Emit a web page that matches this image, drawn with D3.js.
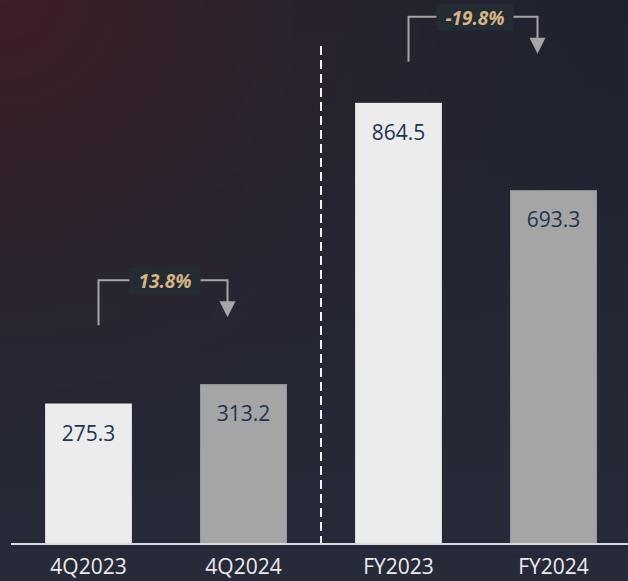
<!DOCTYPE html>
<html>
<head>
<meta charset="utf-8">
<script src="https://cdn.jsdelivr.net/npm/d3@7"></script>
<style>
  html, body { margin: 0; padding: 0; background: #232532; }
  #chart { width: 628px; height: 581px; }
</style>
</head>
<body>
<div id="chart"></div>
<script>
// chart values
var categories = ["4Q2023", "4Q2024", "FY2023", "FY2024"];
var values = [275.3, 313.2, 864.5, 693.3];
var valueLabels = ["275.3", "313.2", "864.5", "693.3"];
var barColors = ["#ececec", "#a5a5a5", "#ececec", "#a5a5a5"];
var changeLabels = ["13.8%", "-19.8%"];
var changePairs = [[0, 1], [2, 3]];

var width = 628, height = 581;
var baseY = 544;

var svg = d3.select("#chart").append("svg")
    .attr("width", width)
    .attr("height", height);

// background
var defs = svg.append("defs");
var lin = defs.append("linearGradient").attr("id", "bgLin")
    .attr("x1", "0").attr("y1", "0").attr("x2", "0").attr("y2", "1");
lin.append("stop").attr("offset", "0%").attr("stop-color", "#1f222d");
lin.append("stop").attr("offset", "100%").attr("stop-color", "#272b39");
var rad = defs.append("radialGradient").attr("id", "bgRad")
    .attr("cx", "0").attr("cy", "0").attr("r", "1");
rad.append("stop").attr("offset", "0%").attr("stop-color", "#3e1d25").attr("stop-opacity", 1);
rad.append("stop").attr("offset", "35%").attr("stop-color", "#31212b").attr("stop-opacity", 0.85);
rad.append("stop").attr("offset", "70%").attr("stop-color", "#2a2430").attr("stop-opacity", 0.35);
rad.append("stop").attr("offset", "100%").attr("stop-color", "#252633").attr("stop-opacity", 0);

svg.append("rect").attr("width", width).attr("height", height).attr("fill", "url(#bgLin)");
svg.append("rect").attr("width", width).attr("height", height).attr("fill", "url(#bgRad)");

var x = d3.scaleBand()
    .domain(categories)
    .range([11, 631])
    .paddingInner(0.44)
    .paddingOuter(0.22);

var y = d3.scaleLinear()
    .domain([0, 1066])
    .range([baseY, 0]);

// bars
svg.append("g").selectAll("rect")
    .data(categories)
    .enter().append("rect")
    .attr("x", function(d) { return x(d); })
    .attr("y", function(d, i) { return y(values[i]); })
    .attr("width", x.bandwidth())
    .attr("height", function(d, i) { return baseY - y(values[i]); })
    .attr("fill", function(d, i) { return barColors[i]; });

// value labels
svg.append("g").selectAll("text")
    .data(categories)
    .enter().append("text")
    .attr("x", function(d) { return x(d) + x.bandwidth() / 2; })
    .attr("y", function(d, i) { return y(values[i]) + 37; })
    .attr("text-anchor", "middle")
    .style("font-family", "'Open Sans', sans-serif")
    .style("font-size", "21px")
    .style("fill", "#1f3552")
    .text(function(d, i) { return valueLabels[i]; });

// divider between quarter and full year
var midX = (x(categories[1]) + x.bandwidth() + x(categories[2])) / 2;
svg.append("line")
    .attr("x1", midX).attr("x2", midX)
    .attr("y1", 46).attr("y2", baseY)
    .attr("stroke", "#f2f2f2")
    .attr("stroke-width", 2)
    .attr("stroke-dasharray", "9,5");

// x axis
var xAxis = svg.append("g")
    .attr("transform", "translate(0," + baseY + ")")
    .call(d3.axisBottom(x).tickSize(0).tickPadding(15));
xAxis.select(".domain").remove();
xAxis.append("line")
    .attr("x1", 11).attr("x2", width)
    .attr("y1", 0).attr("y2", 0)
    .attr("stroke", "#d9d9d9")
    .attr("stroke-width", 2);
xAxis.selectAll("text")
    .style("font-family", "'Open Sans', sans-serif")
    .style("font-size", "21px")
    .style("fill", "#ececec");

// change brackets (top offset above the taller bar, left leg length)
var bracketTop = [104, 86];
var legLen = [45, 45];
changePairs.forEach(function(p, k) {
    var a = categories[p[0]], b = categories[p[1]];
    var x0 = x(a) + x.bandwidth() / 2 + 10;
    var x1 = x(b) + x.bandwidth() / 2 - 16;
    var top = y(Math.max(values[p[0]], values[p[1]])) - bracketTop[k];
    var g = svg.append("g");
    g.append("path")
        .attr("d", "M" + x0 + "," + (top + legLen[k]) + "V" + top + "H" + x1 + "V" + (top + 22))
        .attr("fill", "none")
        .attr("stroke", "#a6a6a6")
        .attr("stroke-width", 2);
    g.append("path")
        .attr("d", "M" + (x1 - 8) + "," + (top + 21) + "L" + (x1 + 8) + "," + (top + 21) + "L" + x1 + "," + (top + 37) + "Z")
        .attr("fill", "#a6a6a6");
    var cx = (x0 + x1) / 2 + 2;
    var label = g.append("text")
        .attr("x", cx)
        .attr("y", top + 8)
        .attr("text-anchor", "middle")
        .style("font-family", "'Open Sans', sans-serif")
        .style("font-size", "19px")
        .style("font-weight", "bold")
        .style("font-style", "italic")
        .style("fill", "#d7b484")
        .text(changeLabels[k]);
    var bb = label.node().getBBox();
    g.insert("rect", "text")
        .attr("x", bb.x - 9)
        .attr("y", top - 13)
        .attr("width", bb.width + 18)
        .attr("height", 27)
        .attr("fill", "#232b33");
});
</script>
</body>
</html>
